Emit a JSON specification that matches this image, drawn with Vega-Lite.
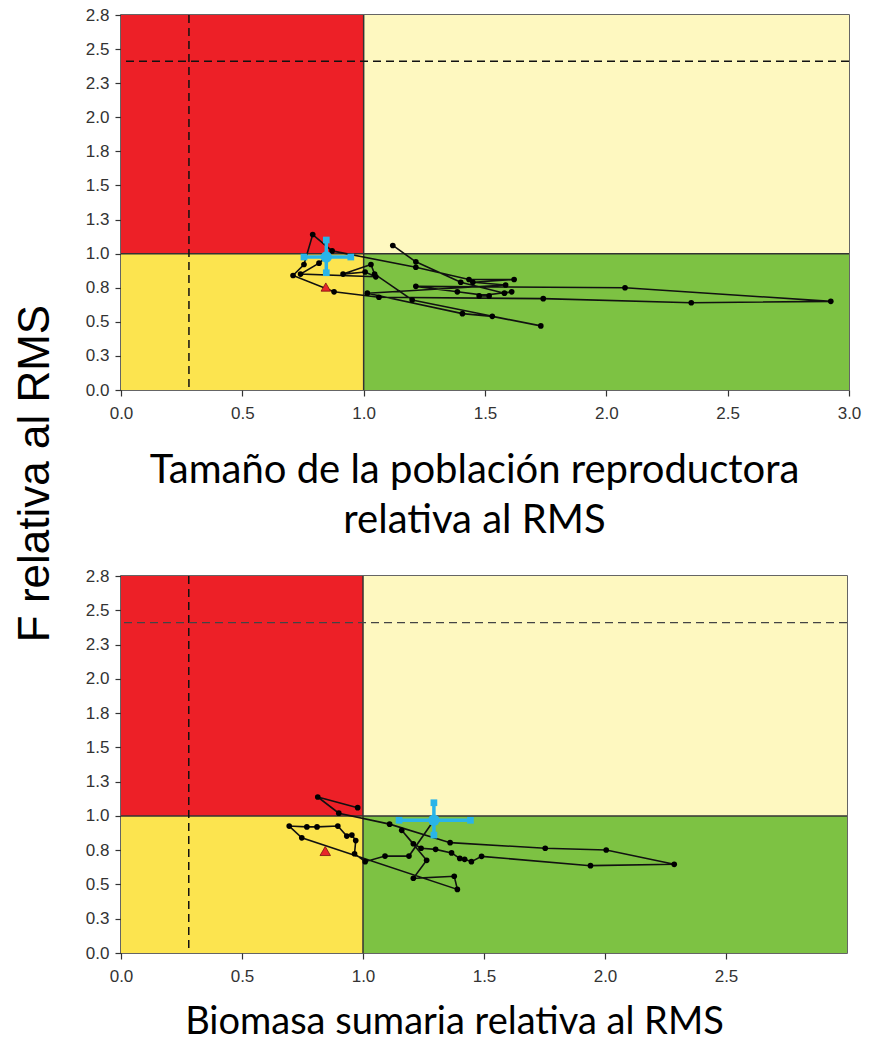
{
  "$schema": "https://vega.github.io/schema/vega-lite/v6.json",
  "padding": {"left": 13, "top": 5, "right": 0, "bottom": 0},
  "background": "white",
  "title": {"text": "F relativa al RMS", "orient": "left", "anchor": "middle", "font": "Liberation Sans", "fontSize": 44, "fontWeight": "normal", "color": "#000", "offset": 27, "dx": 50},
  "config": {
    "view": {"stroke": "#333", "strokeWidth": 1.5},
    "concat": {"spacing": 25},
    "axis": {"grid": false, "domain": false, "tickSize": 6, "tickColor": "#333", "tickWidth": 1.2, "labelFont": "Liberation Sans", "labelFontSize": 17, "labelColor": "#333", "labelPadding": 6, "labelFlush": false, "labelOverlap": false, "labelBound": false, "titleFont": "Lato", "titleFontSize": 40, "titleFontWeight": "normal", "titleColor": "#000", "titleLineHeight": 50},
    "axisX": {"labelPadding": 9}
  },
  "datasets": {
    "zones": [
      {"zone": "sobrepesca", "s": 0, "s2": 1, "f": 1, "f2": 2.75},
      {"zone": "pesca excesiva", "s": 1, "s2": 3, "f": 1, "f2": 2.75},
      {"zone": "sobreexplotado", "s": 0, "s2": 1, "f": 0, "f2": 1},
      {"zone": "sano", "s": 1, "s2": 3, "f": 0, "f2": 1}
    ],
    "refs": [{"lim_s": 0.28, "lim_f": 2.41, "rms": 1}],
    "traj1": [
      {"yr": 1, "s": 1.12, "f": 1.06}, {"yr": 2, "s": 1.215, "f": 0.94}, {"yr": 3, "s": 1.40, "f": 0.79},
      {"yr": 4, "s": 1.58, "f": 0.71}, {"yr": 5, "s": 1.61, "f": 0.72}, {"yr": 6, "s": 1.476, "f": 0.69},
      {"yr": 7, "s": 1.517, "f": 0.69}, {"yr": 8, "s": 1.386, "f": 0.72}, {"yr": 9, "s": 1.215, "f": 0.76},
      {"yr": 10, "s": 2.077, "f": 0.75}, {"yr": 11, "s": 2.925, "f": 0.65}, {"yr": 12, "s": 2.35, "f": 0.64},
      {"yr": 13, "s": 1.74, "f": 0.67}, {"yr": 14, "s": 1.063, "f": 0.68}, {"yr": 15, "s": 0.878, "f": 0.72},
      {"yr": 16, "s": 0.709, "f": 0.84}, {"yr": 17, "s": 0.754, "f": 0.92}, {"yr": 18, "s": 0.79, "f": 1.14},
      {"yr": 19, "s": 0.87, "f": 1.02}, {"yr": 20, "s": 1.215, "f": 0.90}, {"yr": 21, "s": 1.434, "f": 0.81},
      {"yr": 22, "s": 1.62, "f": 0.81}, {"yr": 23, "s": 1.45, "f": 0.79}, {"yr": 24, "s": 1.585, "f": 0.77},
      {"yr": 25, "s": 1.015, "f": 0.71}, {"yr": 26, "s": 1.407, "f": 0.56}, {"yr": 27, "s": 1.53, "f": 0.54},
      {"yr": 28, "s": 1.73, "f": 0.47}, {"yr": 29, "s": 1.20, "f": 0.66}, {"yr": 30, "s": 1.045, "f": 0.85},
      {"yr": 31, "s": 1.03, "f": 0.92}, {"yr": 32, "s": 0.915, "f": 0.85}, {"yr": 33, "s": 1.006, "f": 0.865},
      {"yr": 34, "s": 1.05, "f": 0.83}, {"yr": 35, "s": 0.74, "f": 0.85}, {"yr": 36, "s": 0.816, "f": 0.93},
      {"yr": 37, "s": 0.846, "f": 0.975}
    ],
    "traj2": [
      {"yr": 1, "s": 0.978, "f": 1.06}, {"yr": 2, "s": 0.813, "f": 1.138}, {"yr": 3, "s": 0.90, "f": 1.02},
      {"yr": 4, "s": 1.11, "f": 0.94}, {"yr": 5, "s": 1.36, "f": 0.805}, {"yr": 6, "s": 1.753, "f": 0.764},
      {"yr": 7, "s": 2.005, "f": 0.751}, {"yr": 8, "s": 2.286, "f": 0.647}, {"yr": 9, "s": 1.94, "f": 0.637},
      {"yr": 10, "s": 1.49, "f": 0.705}, {"yr": 11, "s": 1.448, "f": 0.666}, {"yr": 12, "s": 1.42, "f": 0.683},
      {"yr": 13, "s": 1.40, "f": 0.69}, {"yr": 14, "s": 1.366, "f": 0.73}, {"yr": 15, "s": 1.30, "f": 0.756},
      {"yr": 16, "s": 1.24, "f": 0.764}, {"yr": 17, "s": 1.208, "f": 0.797}, {"yr": 18, "s": 1.16, "f": 0.895},
      {"yr": 19, "s": 1.263, "f": 0.676}, {"yr": 20, "s": 1.208, "f": 0.545}, {"yr": 21, "s": 1.377, "f": 0.56},
      {"yr": 22, "s": 1.39, "f": 0.464}, {"yr": 23, "s": 0.747, "f": 0.84}, {"yr": 24, "s": 0.695, "f": 0.926},
      {"yr": 25, "s": 0.768, "f": 0.92}, {"yr": 26, "s": 0.81, "f": 0.92}, {"yr": 27, "s": 0.896, "f": 0.926},
      {"yr": 28, "s": 0.933, "f": 0.853}, {"yr": 29, "s": 0.954, "f": 0.86}, {"yr": 30, "s": 0.97, "f": 0.82},
      {"yr": 31, "s": 0.965, "f": 0.724}, {"yr": 32, "s": 1.009, "f": 0.666}, {"yr": 33, "s": 1.091, "f": 0.707},
      {"yr": 34, "s": 1.19, "f": 0.707}, {"yr": 35, "s": 1.293, "f": 0.968}
    ],
    "first1": [{"s": 0.844, "f": 0.755}],
    "first2": [{"s": 0.844, "f": 0.744}],
    "last1": [{"s": 0.846, "f": 0.975, "slo": 0.754, "shi": 0.947, "flo": 0.86, "fhi": 1.10}],
    "last2": [{"s": 1.293, "f": 0.968, "slo": 1.149, "shi": 1.444, "flo": 0.86, "fhi": 1.096}]
  },
  "vconcat": [
    {
      "width": 728,
      "height": 375,
      "layer": [
        {
          "data": {"name": "zones"},
          "mark": {"type": "rect"},
          "encoding": {
            "x": {"field": "s", "type": "quantitative", "scale": {"domain": [0, 3], "nice": false, "zero": false},
              "axis": {"values": [0, 0.5, 1, 1.5, 2, 2.5, 3], "tickCount": 20, "format": ".1f", "title": ["Tamaño de la población reproductora", "relativa al RMS"], "titlePadding": 29, "titleX": 353}},
            "x2": {"field": "s2"},
            "y": {"field": "f", "type": "quantitative", "scale": {"domain": [0, 2.75], "nice": false, "zero": false},
              "axis": {"values": [0, 0.25, 0.5, 0.75, 1, 1.25, 1.5, 1.75, 2, 2.25, 2.5, 2.75], "tickCount": 20, "format": ".1f", "title": ""}},
            "y2": {"field": "f2"},
            "color": {"field": "zone", "type": "nominal", "legend": null,
              "scale": {"domain": ["sobrepesca", "pesca excesiva", "sobreexplotado", "sano"], "range": ["#ED2027", "#FEF8C0", "#FCE44F", "#7DC243"]}}
          }
        },
        {"data": {"name": "refs"}, "mark": {"type": "rule", "color": "#333", "strokeWidth": 1.5}, "encoding": {"x": {"field": "rms", "type": "quantitative"}}},
        {"data": {"name": "refs"}, "mark": {"type": "rule", "color": "#333", "strokeWidth": 1.5}, "encoding": {"y": {"field": "rms", "type": "quantitative"}}},
        {"data": {"name": "refs"}, "mark": {"type": "rule", "color": "#111", "strokeWidth": 1.5, "strokeDash": [8, 5]}, "encoding": {"x": {"field": "lim_s", "type": "quantitative"}}},
        {"data": {"name": "refs"}, "mark": {"type": "rule", "color": "#111", "strokeWidth": 1.5, "strokeDash": [8, 5]}, "encoding": {"y": {"field": "lim_f", "type": "quantitative"}}},
        {"data": {"name": "traj1"}, "mark": {"type": "line", "color": "#111", "strokeWidth": 1.6},
          "encoding": {"x": {"field": "s", "type": "quantitative"}, "y": {"field": "f", "type": "quantitative"}, "order": {"field": "yr", "type": "quantitative"}}},
        {"data": {"name": "traj1"}, "mark": {"type": "point", "filled": true, "color": "#000", "size": 32, "opacity": 1},
          "encoding": {"x": {"field": "s", "type": "quantitative"}, "y": {"field": "f", "type": "quantitative"}}},
        {"data": {"name": "first1"}, "mark": {"type": "point", "shape": "triangle-up", "filled": true, "color": "#E8262A", "stroke": "#7a1010", "strokeWidth": 0.8, "size": 90, "opacity": 1},
          "encoding": {"x": {"field": "s", "type": "quantitative"}, "y": {"field": "f", "type": "quantitative"}}},
        {"data": {"name": "last1"}, "mark": {"type": "rule", "color": "#2AB4E8", "strokeWidth": 3.5},
          "encoding": {"x": {"field": "slo", "type": "quantitative"}, "x2": {"field": "shi"}, "y": {"field": "f", "type": "quantitative"}}},
        {"data": {"name": "last1"}, "mark": {"type": "rule", "color": "#2AB4E8", "strokeWidth": 3.5},
          "encoding": {"x": {"field": "s", "type": "quantitative"}, "y": {"field": "flo", "type": "quantitative"}, "y2": {"field": "fhi"}}},
        {"data": {"name": "last1"}, "mark": {"type": "point", "shape": "square", "filled": true, "color": "#2AB4E8", "size": 45, "opacity": 1},
          "encoding": {"x": {"field": "slo", "type": "quantitative"}, "y": {"field": "f", "type": "quantitative"}}},
        {"data": {"name": "last1"}, "mark": {"type": "point", "shape": "square", "filled": true, "color": "#2AB4E8", "size": 45, "opacity": 1},
          "encoding": {"x": {"field": "shi", "type": "quantitative"}, "y": {"field": "f", "type": "quantitative"}}},
        {"data": {"name": "last1"}, "mark": {"type": "point", "shape": "square", "filled": true, "color": "#2AB4E8", "size": 45, "opacity": 1},
          "encoding": {"x": {"field": "s", "type": "quantitative"}, "y": {"field": "flo", "type": "quantitative"}}},
        {"data": {"name": "last1"}, "mark": {"type": "point", "shape": "square", "filled": true, "color": "#2AB4E8", "size": 45, "opacity": 1},
          "encoding": {"x": {"field": "s", "type": "quantitative"}, "y": {"field": "fhi", "type": "quantitative"}}},
        {"data": {"name": "last1"}, "mark": {"type": "point", "shape": "circle", "filled": true, "color": "#2AB4E8", "size": 130, "opacity": 1},
          "encoding": {"x": {"field": "s", "type": "quantitative"}, "y": {"field": "f", "type": "quantitative"}}}
      ]
    },
    {
      "width": 726,
      "height": 377,
      "layer": [
        {
          "data": {"name": "zones"},
          "mark": {"type": "rect"},
          "encoding": {
            "x": {"field": "s", "type": "quantitative", "scale": {"domain": [0, 3], "nice": false, "zero": false},
              "axis": {"values": [0, 0.5, 1, 1.5, 2, 2.5], "tickCount": 20, "format": ".1f", "title": "Biomasa sumaria relativa al RMS", "titleFontSize": 38, "titleLineHeight": 40, "titlePadding": 19, "titleX": 333}},
            "x2": {"field": "s2"},
            "y": {"field": "f", "type": "quantitative", "scale": {"domain": [0, 2.75], "nice": false, "zero": false},
              "axis": {"values": [0, 0.25, 0.5, 0.75, 1, 1.25, 1.5, 1.75, 2, 2.25, 2.5, 2.75], "tickCount": 20, "format": ".1f", "title": ""}},
            "y2": {"field": "f2"},
            "color": {"field": "zone", "type": "nominal", "legend": null,
              "scale": {"domain": ["sobrepesca", "pesca excesiva", "sobreexplotado", "sano"], "range": ["#ED2027", "#FEF8C0", "#FCE44F", "#7DC243"]}}
          }
        },
        {"data": {"name": "refs"}, "mark": {"type": "rule", "color": "#333", "strokeWidth": 1.5}, "encoding": {"x": {"field": "rms", "type": "quantitative"}}},
        {"data": {"name": "refs"}, "mark": {"type": "rule", "color": "#333", "strokeWidth": 1.5}, "encoding": {"y": {"field": "rms", "type": "quantitative"}}},
        {"data": {"name": "refs"}, "mark": {"type": "rule", "color": "#111", "strokeWidth": 1.5, "strokeDash": [8, 5]}, "encoding": {"x": {"field": "lim_s", "type": "quantitative"}}},
        {"data": {"name": "refs"}, "mark": {"type": "rule", "color": "#444", "strokeWidth": 1.3, "strokeDash": [8, 5]}, "encoding": {"y": {"field": "lim_f", "type": "quantitative"}}},
        {"data": {"name": "traj2"}, "mark": {"type": "line", "color": "#111", "strokeWidth": 1.6},
          "encoding": {"x": {"field": "s", "type": "quantitative"}, "y": {"field": "f", "type": "quantitative"}, "order": {"field": "yr", "type": "quantitative"}}},
        {"data": {"name": "traj2"}, "mark": {"type": "point", "filled": true, "color": "#000", "size": 32, "opacity": 1},
          "encoding": {"x": {"field": "s", "type": "quantitative"}, "y": {"field": "f", "type": "quantitative"}}},
        {"data": {"name": "first2"}, "mark": {"type": "point", "shape": "triangle-up", "filled": true, "color": "#E8262A", "stroke": "#7a1010", "strokeWidth": 0.8, "size": 110, "opacity": 1},
          "encoding": {"x": {"field": "s", "type": "quantitative"}, "y": {"field": "f", "type": "quantitative"}}},
        {"data": {"name": "last2"}, "mark": {"type": "rule", "color": "#2AB4E8", "strokeWidth": 3.5},
          "encoding": {"x": {"field": "slo", "type": "quantitative"}, "x2": {"field": "shi"}, "y": {"field": "f", "type": "quantitative"}}},
        {"data": {"name": "last2"}, "mark": {"type": "rule", "color": "#2AB4E8", "strokeWidth": 3.5},
          "encoding": {"x": {"field": "s", "type": "quantitative"}, "y": {"field": "flo", "type": "quantitative"}, "y2": {"field": "fhi"}}},
        {"data": {"name": "last2"}, "mark": {"type": "point", "shape": "square", "filled": true, "color": "#2AB4E8", "size": 45, "opacity": 1},
          "encoding": {"x": {"field": "slo", "type": "quantitative"}, "y": {"field": "f", "type": "quantitative"}}},
        {"data": {"name": "last2"}, "mark": {"type": "point", "shape": "square", "filled": true, "color": "#2AB4E8", "size": 45, "opacity": 1},
          "encoding": {"x": {"field": "shi", "type": "quantitative"}, "y": {"field": "f", "type": "quantitative"}}},
        {"data": {"name": "last2"}, "mark": {"type": "point", "shape": "square", "filled": true, "color": "#2AB4E8", "size": 45, "opacity": 1},
          "encoding": {"x": {"field": "s", "type": "quantitative"}, "y": {"field": "flo", "type": "quantitative"}}},
        {"data": {"name": "last2"}, "mark": {"type": "point", "shape": "square", "filled": true, "color": "#2AB4E8", "size": 45, "opacity": 1},
          "encoding": {"x": {"field": "s", "type": "quantitative"}, "y": {"field": "fhi", "type": "quantitative"}}},
        {"data": {"name": "last2"}, "mark": {"type": "point", "shape": "circle", "filled": true, "color": "#2AB4E8", "size": 130, "opacity": 1},
          "encoding": {"x": {"field": "s", "type": "quantitative"}, "y": {"field": "f", "type": "quantitative"}}}
      ]
    }
  ]
}
